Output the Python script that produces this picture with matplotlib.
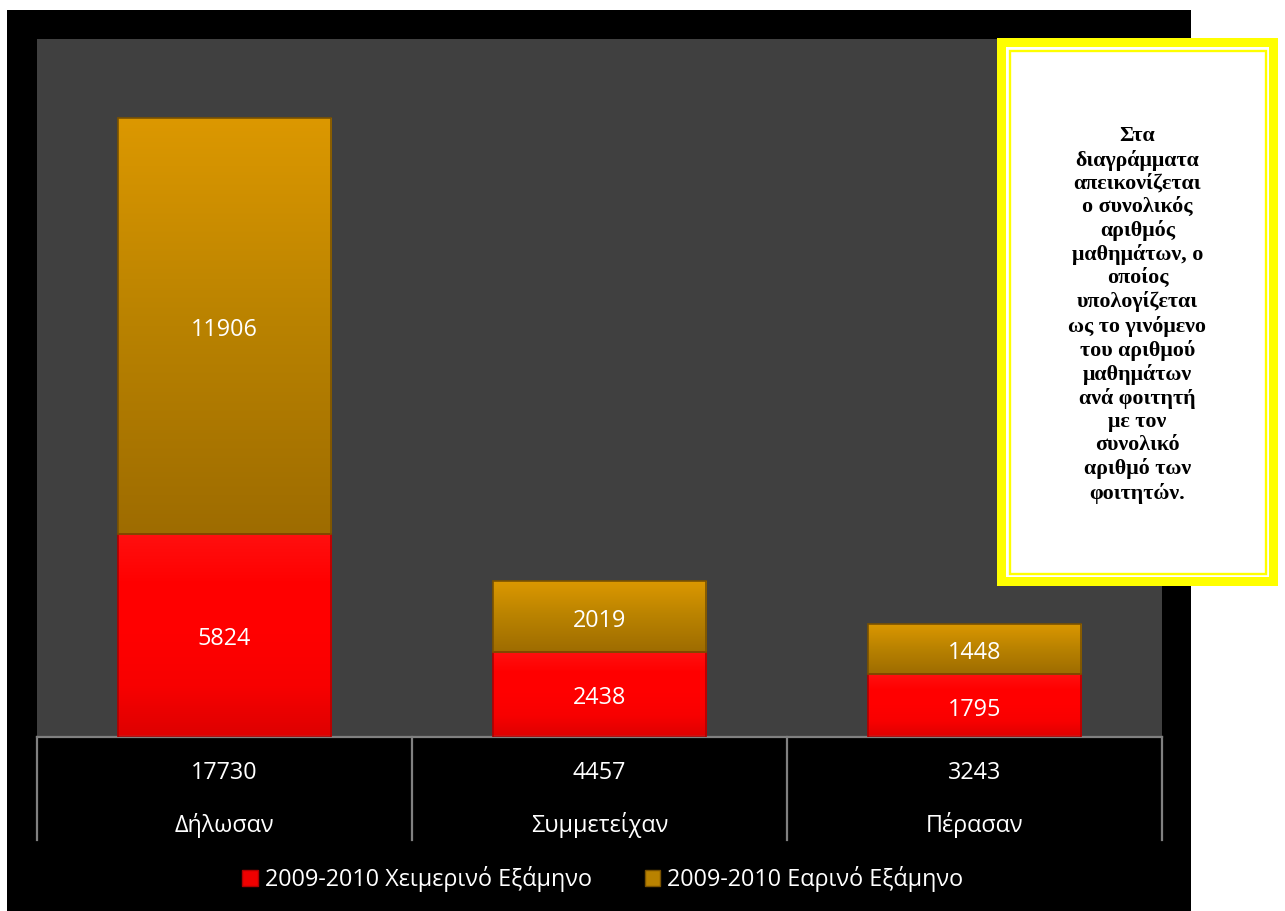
import numpy as np
import matplotlib.pyplot as plt
from matplotlib.patches import Rectangle, Patch
from matplotlib.colors import LinearSegmentedColormap
import matplotlib.transforms as mtransforms

plt.rcParams['font.family'] = ['Open Sans', 'DejaVu Sans']

# Δεδομένα
katigories = ['Δήλωσαν', 'Συμμετείχαν', 'Πέρασαν']
xeimerino = [5824, 2438, 1795]
earino = [11906, 2019, 1448]
synola = [17730, 4457, 3243]
seires = ['2009-2010 Χειμερινό Εξάμηνο', '2009-2010 Εαρινό Εξάμηνο']
keimeno = ['Στα', 'διαγράμματα', 'απεικονίζεται', 'ο συνολικός', 'αριθμός',
           'μαθημάτων, ο', 'οποίος', 'υπολογίζεται', 'ως το γινόμενο',
           'του αριθμού', 'μαθημάτων', 'ανά φοιτητή', 'με τον', 'συνολικό',
           'αριθμό των', 'φοιτητών.']

W, H = 1285, 911
fig = plt.figure(figsize=(W / 100, H / 100), dpi=100)
fig.patch.set_facecolor('white')

# μαύρο φόντο του γραφήματος
fig.add_artist(Rectangle((7 / W, 0), 1184 / W, 901 / H, transform=fig.transFigure,
                         facecolor='black', edgecolor='none', zorder=-1))

ax = fig.add_axes([37 / W, 174 / H, 1125 / W, 698 / H])
ax.set_facecolor('#404040')
for s in ax.spines.values():
    s.set_visible(False)
ax.set_xticks([])
ax.set_yticks([])

x = np.arange(len(katigories))
platos = 0.57

cmap_red = LinearSegmentedColormap.from_list('r', ['#DD0000', '#F80000', '#FF0000', '#FF0000', '#FF1010'])
cmap_gold = LinearSegmentedColormap.from_list('g', ['#9E6C00', '#B98200', '#DC9800'])
grad = np.linspace(0, 1, 256).reshape(-1, 1)

def gemisma(bars, cmap, edge):
    for b in bars:
        x0, y0 = b.get_x(), b.get_y()
        im = ax.imshow(grad, cmap=cmap, origin='lower', aspect='auto',
                       extent=[x0, x0 + b.get_width(), y0, y0 + b.get_height()],
                       zorder=2)
        im.set_clip_path(b)
        ax.add_patch(Rectangle((x0, y0), b.get_width(), b.get_height(),
                               facecolor='none', edgecolor=edge, lw=1.2, zorder=3))

b1 = ax.bar(x, xeimerino, platos, color='#FF0000', zorder=1)
b2 = ax.bar(x, earino, platos, bottom=xeimerino, color='#C08600', zorder=1)
gemisma(b1, cmap_red, '#B00000')
gemisma(b2, cmap_gold, '#7A5200')

# ετικέτες τιμών μέσα στις μπάρες
lab_tr = mtransforms.offset_copy(ax.transData, fig=fig, x=0, y=-4, units='dots')
for i in range(len(x)):
    ax.text(x[i], xeimerino[i] / 2, str(xeimerino[i]), color='white', fontsize=16.8,
            ha='center', va='center', zorder=4, transform=lab_tr)
    ax.text(x[i], xeimerino[i] + earino[i] / 2, str(earino[i]), color='white', fontsize=16.8,
            ha='center', va='center', zorder=4, transform=lab_tr)

ax.set_xlim(-0.5, 2.5)
ax.set_ylim(0, 20000)

# πίνακας δεδομένων κάτω από τον άξονα
tr = mtransforms.blended_transform_factory(ax.transData, ax.transAxes)
bot = -103 / 698
ax.plot([-0.5, 2.5], [0, 0], color='#808080', lw=1.6, transform=tr, clip_on=False)
for xv in np.arange(-0.5, 3.0, 1.0):
    ax.plot([xv, xv], [0, bot], color='#808080', lw=1.6, transform=tr, clip_on=False)
for i in range(len(x)):
    ax.text(x[i], -36 / 698, str(synola[i]), color='white', fontsize=16.8,
            ha='center', va='center', transform=tr)
    ax.text(x[i], -88 / 698, katigories[i], color='white', fontsize=16.8,
            ha='center', va='center', transform=tr)

# υπόμνημα
handles = [Patch(facecolor='#F00000', edgecolor='#B00000'),
           Patch(facecolor='#B98200', edgecolor='#7A5200')]
fig.legend(handles, seires, loc='center', bbox_to_anchor=(603 / W, 32 / H),
           ncol=2, frameon=False, labelcolor='white', fontsize=16.8,
           handlelength=0.65, handleheight=0.65, handletextpad=0.3, columnspacing=2.3)

# πλαίσιο κειμένου
bx0, by0, bw, bh = 997, 38, 281, 548
fig.add_artist(Rectangle((bx0 / W, 1 - (by0 + bh) / H), bw / W, bh / H,
                         transform=fig.transFigure, facecolor='#FFFF00',
                         edgecolor='none', zorder=5))
fig.add_artist(Rectangle(((bx0 + 9) / W, 1 - (by0 + bh - 9) / H), (bw - 18) / W, (bh - 18) / H,
                         transform=fig.transFigure, facecolor='white',
                         edgecolor='none', zorder=6))
fig.add_artist(Rectangle(((bx0 + 12.5) / W, 1 - (by0 + bh - 12.5) / H), (bw - 25) / W, (bh - 25) / H,
                         transform=fig.transFigure, facecolor='none',
                         edgecolor='#FFFF00', lw=1.7, zorder=7))
fig.text((bx0 + bw / 2) / W, 1 - 315 / H, '\n'.join(keimeno), ha='center', va='center',
         family=['Liberation Serif', 'DejaVu Serif'], fontweight='bold', fontsize=15.8,
         linespacing=1.2, color='black', zorder=8)

fig.savefig('out.png', dpi=100)
